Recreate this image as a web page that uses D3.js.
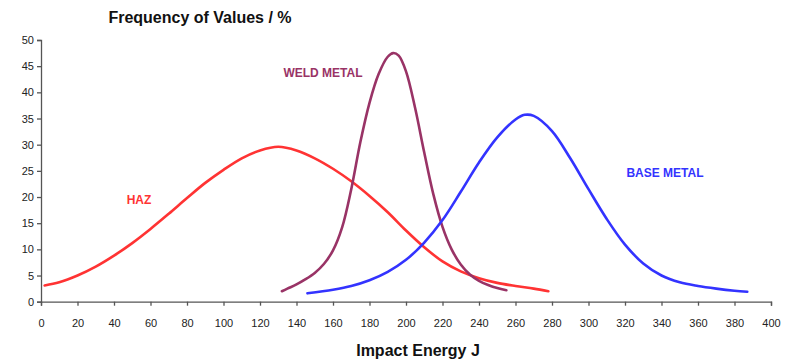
<!DOCTYPE html>
<html><head><meta charset="utf-8">
<script src="https://cdn.jsdelivr.net/npm/d3@7"></script>
<style>body{margin:0;background:#fff}svg{display:block;font-family:"Liberation Sans",Arial,sans-serif}</style>
</head><body><svg id="c" width="788" height="360"></svg>
<script>
const hazX = [2,10,20,30,40,50,60,70,80,90,100,110,120,130,140,150,160,170,180,190,200,210,220,230,240,250,260,270,278];
const hazY = [3.1,3.7,5.0,6.7,8.8,11.2,13.9,16.8,19.8,22.7,25.2,27.4,28.9,29.6,28.9,27.4,25.4,23.0,20.2,17.1,13.6,10.4,7.7,5.8,4.5,3.6,3.0,2.5,2.0];
const weldX = [132,135,140,145,150,155,160,165,170,175,180,185,190,193,196,200,205,210,215,220,225,230,235,240,245,250,255];
const weldY = [2.0,2.5,3.3,4.3,5.5,7.2,9.8,14.2,21.5,30.5,38,43.5,46.8,47.5,47,44,37,28.5,20.5,14.3,10,7.1,5.2,4,3.2,2.6,2.2];
const baseX = [146,160,170,180,190,200,210,220,230,240,250,260,265,270,280,290,300,310,320,330,340,350,360,370,380,387];
const baseY = [1.6,2.3,3.0,4.1,5.7,8.0,11.3,15.6,21.0,26.6,31.4,34.8,35.7,35.5,32.6,27.4,21.5,15.8,10.9,7.3,5.0,3.7,3.0,2.5,2.1,1.9];
const xTicks = [0,20,40,60,80,100,120,140,160,180,200,220,240,260,280,300,320,340,360,380,400];
const yTicks = [0,5,10,15,20,25,30,35,40,45,50];
const seriesNames = ["HAZ","WELD METAL","BASE METAL"];

const svg = d3.select("#c");
const x = d3.scaleLinear().domain([0,400]).range([41,771]);
const y = d3.scaleLinear().domain([0,50]).range([301.7,40]);

const ax = svg.append("g").attr("transform","translate(0,301.7)")
  .call(d3.axisBottom(x).tickValues(xTicks).tickSizeOuter(0).tickSize(4).tickPadding(14));
const ay = svg.append("g").attr("transform","translate(41,0)")
  .call(d3.axisLeft(y).tickValues(yTicks).tickSizeOuter(0).tickSize(4).tickPadding(3));
[ax,ay].forEach(g=>{
  g.selectAll("path,line").attr("stroke","#555").attr("stroke-width",1.3);
  g.selectAll("text").attr("fill","#222").style("font-size","11px").style("font-family","'Liberation Sans',Arial,sans-serif");
});

const line = d3.line().x(d=>x(d[0])).y(d=>y(d[1])).curve(d3.curveCatmullRom.alpha(0.5));
const series = [
  {name:seriesNames[0], xs:hazX, ys:hazY, color:"#ff3333", lx:139, ly:204},
  {name:seriesNames[1], xs:weldX, ys:weldY, color:"#993366", lx:323, ly:77},
  {name:seriesNames[2], xs:baseX, ys:baseY, color:"#3333ff", lx:665, ly:177}
];
series.forEach(s=>{
  svg.append("path").datum(s.xs.map((v,i)=>[v,s.ys[i]]))
    .attr("d",line).attr("fill","none").attr("stroke",s.color).attr("stroke-width",2.6)
    .attr("stroke-linecap","round").attr("stroke-linejoin","round");
  svg.append("text").attr("x",s.lx).attr("y",s.ly).attr("text-anchor","middle")
    .attr("fill",s.color).style("font-weight","bold").style("font-size","12px").text(s.name);
});

svg.append("text").attr("x",200).attr("y",23).attr("text-anchor","middle")
  .style("font-weight","bold").style("font-size","16px").attr("fill","#111").text("Frequency of Values / %");
svg.append("text").attr("x",418).attr("y",356).attr("text-anchor","middle")
  .style("font-weight","bold").style("font-size","16px").attr("fill","#111").text("Impact Energy J");
</script></body></html>
